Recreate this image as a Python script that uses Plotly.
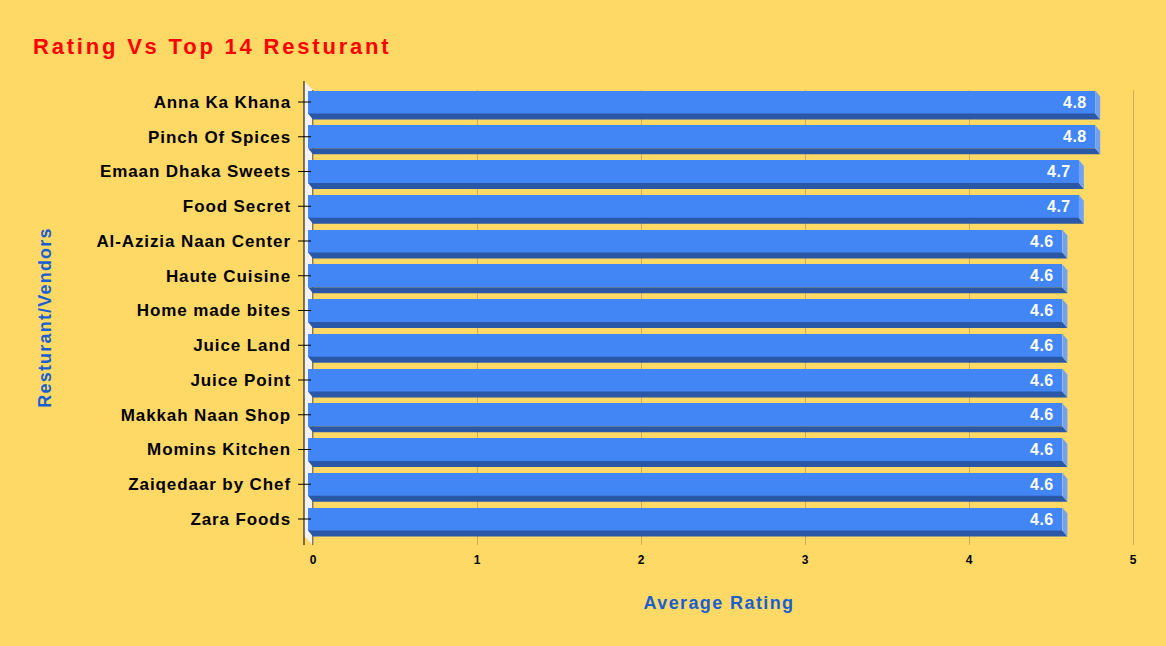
import plotly.graph_objects as go

# ---------------- data ----------------
restaurants = ["Anna Ka Khana", "Pinch Of Spices", "Emaan Dhaka Sweets", "Food Secret",
               "Al-Azizia Naan Center", "Haute Cuisine", "Home made bites", "Juice Land",
               "Juice Point", "Makkah Naan Shop", "Momins Kitchen", "Zaiqedaar by Chef",
               "Zara Foods"]
ratings = [4.8, 4.8, 4.7, 4.7, 4.6, 4.6, 4.6, 4.6, 4.6, 4.6, 4.6, 4.6, 4.6]
x_ticks = [0, 1, 2, 3, 4, 5]
title_text = "Rating Vs Top 14 Resturant"
x_title = "Average Rating"
y_title = "Resturant/Vendors"

# ---------------- geometry / style ----------------
W, H = 1166, 646
L, R, T, B = 298, 26, 90, 101
PW, PH = W - L - R, H - T - B
PX_PER_X = 164.0           # pixels per rating unit
PX_PER_CAT = 34.75         # pixels per category
x_range = [-15 / PX_PER_X, -15 / PX_PER_X + PW / PX_PER_X]
y_top = -12 / PX_PER_CAT
y_range = [y_top + PH / PX_PER_CAT, y_top]   # reversed

DX = 5 / PX_PER_X      # 3D depth in x (data units)
DY = 6 / PX_PER_CAT    # 3D depth in y (category units)
HALF = 11.5 / PX_PER_CAT

BG = "#FFD966"
FACE = "#4285F4"
DARK = "#2B58A6"
SIDE = "#6FA1F7"
GRID = "#D2AC58"
WALL = "#F4F2EE"
FONT = "Liberation Sans, Arial, sans-serif"


def spaced(txt, sp):
    return f'<span style="letter-spacing:{sp}px">{txt}</span>'


idx = list(range(len(restaurants)))

fig = go.Figure()
fig.add_trace(go.Bar(
    orientation="h", y=idx, x=ratings, base=-DX, width=2 * HALF,
    marker=dict(color=FACE, line=dict(width=0)),
    hovertemplate="%{customdata}: %{x}<extra></extra>",
    customdata=restaurants, showlegend=False,
))

shapes = []
# left wall
shapes.append(dict(type="path", xref="x", xsizemode="pixel", xanchor=0,
                   yref="paper", ysizemode="pixel", yanchor=0,
                   path="M-9,9 L0,0 L0,455 L-9,464 Z",
                   fillcolor=WALL, line=dict(width=0), layer="between"))
shapes.append(dict(type="line", xref="x", xsizemode="pixel", xanchor=0,
                   yref="paper", ysizemode="pixel", yanchor=0,
                   x0=-9, x1=-9, y0=0, y1=464, line=dict(color="black", width=1),
                   layer="between"))
shapes.append(dict(type="line", xref="x", xsizemode="pixel", xanchor=0,
                   yref="paper", ysizemode="pixel", yanchor=0,
                   x0=0, x1=0, y0=0, y1=455, line=dict(color="black", width=1),
                   layer="between"))

annotations = []
for c, v in zip(idx, ratings):
    # bottom (dark) face
    shapes.append(dict(type="path", xref="x", yref="y",
                       path=f"M{-DX},{c + HALF} L{v - DX},{c + HALF} L{v},{c + HALF + DY} L0,{c + HALF + DY} Z",
                       fillcolor=DARK, line=dict(width=0), layer="above"))
    # right (light) face
    shapes.append(dict(type="path", xref="x", yref="y",
                       path=f"M{v - DX},{c - HALF} L{v},{c - HALF + DY} L{v},{c + HALF + DY} L{v - DX},{c + HALF} Z",
                       fillcolor=SIDE, line=dict(width=0), layer="above"))
    # category tick
    shapes.append(dict(type="line", xref="x", xsizemode="pixel", xanchor=0,
                       yref="y", x0=-15, x1=-2, y0=c, y1=c,
                       line=dict(color="black", width=1), layer="above"))
    annotations.append(dict(x=v - DX, y=c, xref="x", yref="y", xanchor="right",
                            yanchor="middle", xshift=-6, showarrow=False,
                            text=spaced(f"{v}", 0.5),
                            font=dict(family=FONT, size=16, color="white", weight="bold")))

fig.update_layout(
    width=W, height=H,
    margin=dict(l=L, r=R, t=T, b=B, autoexpand=False),
    paper_bgcolor=BG, plot_bgcolor=BG,
    title=dict(text=spaced(title_text, 2.8), x=33 / W, xanchor="left",
               y=1 - 46 / H, yanchor="middle", xref="container", yref="container",
               font=dict(family=FONT, size=22, color="#FF0000", weight="bold")),
    bargap=0, barmode="overlay",
    shapes=shapes, annotations=annotations,
    xaxis=dict(range=x_range, tickvals=x_ticks,
               ticktext=[str(t) for t in x_ticks],
               showgrid=True, gridcolor=GRID, gridwidth=1, zeroline=False,
               showline=False, ticks="", fixedrange=True, ticklabelstandoff=6,
               tickfont=dict(family=FONT, size=12, color="black", weight="bold"),
               title=dict(text=spaced(x_title, 1.4), standoff=30,
                          font=dict(family=FONT, size=18, color="#1A5FD0", weight="bold"))),
    yaxis=dict(range=y_range, tickvals=idx,
               ticktext=[spaced(r, 0.9) for r in restaurants],
               showgrid=False, zeroline=False, showline=False, ticks="",
               ticklabelstandoff=6, fixedrange=True,
               tickfont=dict(family=FONT, size=17, color="black", weight="bold"),
               title=dict(text=spaced(y_title, 1.2), standoff=40,
                          font=dict(family=FONT, size=18, color="#1A5FD0", weight="bold"))),
)

fig.write_html("out.html")
